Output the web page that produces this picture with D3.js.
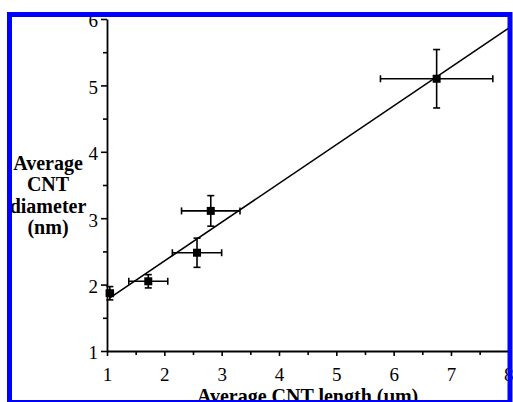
<!DOCTYPE html>
<html>
<head>
<meta charset="utf-8">
<script src="https://cdn.jsdelivr.net/npm/d3@7"></script>
<style>
  html, body { margin: 0; padding: 0; background: #fff; }
  svg { display: block; }
</style>
</head>
<body>
<svg id="chart" width="513" height="402"></svg>
<script>
// Average CNT length (µm) vs. average CNT diameter (nm)
const lengthMean = [1.05, 1.72, 2.57, 2.81, 6.75];
const lengthErr  = [0.06, 0.34, 0.43, 0.51, 0.98];
const diamMean   = [1.87, 2.05, 2.48, 3.11, 5.10];
const diamErr    = [0.10, 0.10, 0.22, 0.23, 0.44];

// Linear fit drawn through the points (end points)
const fitX = [1.05, 8];
const fitY = [1.80, 5.86];

const xTicks = [1, 2, 3, 4, 5, 6, 7, 8];
const yTicks = [1, 2, 3, 4, 5, 6];
const xMinor = [1.5, 2.5, 3.5, 4.5, 5.5, 6.5, 7.5];
const yMinor = [1.5, 2.5, 3.5, 4.5, 5.5];

const xTitle = "Average CNT length (\u00b5m)";
const yTitle = ["Average", "CNT", "diameter", "(nm)"];

const SERIF = "'Liberation Serif', 'Times New Roman', Times, serif";

const svg = d3.select("#chart");

const x = d3.scaleLinear().domain([1, 8]).range([107, 508.3]);
const y = d3.scaleLinear().domain([1, 6]).range([351, 19]);

const g = svg.append("g");

// Minor ticks
g.append("g")
  .attr("transform", `translate(0,${y(1)})`)
  .call(d3.axisBottom(x).tickValues(xMinor).tickSize(4).tickFormat(""))
  .call(a => a.select(".domain").remove())
  .selectAll("line").attr("stroke", "#000").attr("stroke-width", 1.6);
g.append("g")
  .attr("transform", `translate(${x(1)},0)`)
  .call(d3.axisLeft(y).tickValues(yMinor).tickSize(4).tickFormat(""))
  .call(a => a.select(".domain").remove())
  .selectAll("line").attr("stroke", "#000").attr("stroke-width", 1.6);

// Major axes
const xAxis = g.append("g")
  .attr("transform", `translate(0,${y(1)})`)
  .call(d3.axisBottom(x).tickValues(xTicks).tickSize(5).tickSizeOuter(0).tickPadding(12)
    .tickFormat(d3.format("d")));
xAxis.attr("font-family", null).attr("font-size", null);
xAxis.select(".domain").attr("stroke", "#000").attr("stroke-width", 1.8);
xAxis.selectAll(".tick line").attr("stroke", "#000").attr("stroke-width", 1.6);
xAxis.selectAll(".tick text")
  .style("font-family", SERIF)
  .style("font-size", "19px").attr("fill", "#000");

const yAxis = g.append("g")
  .attr("transform", `translate(${x(1)},0)`)
  .call(d3.axisLeft(y).tickValues(yTicks).tickSize(6).tickSizeOuter(0).tickPadding(3)
    .tickFormat(d3.format("d")));
yAxis.attr("font-family", null).attr("font-size", null);
yAxis.select(".domain").attr("stroke", "#000").attr("stroke-width", 1.8);
yAxis.selectAll(".tick line").attr("stroke", "#000").attr("stroke-width", 1.6);
yAxis.selectAll(".tick text")
  .style("font-family", SERIF)
  .style("font-size", "19px").attr("fill", "#000")
  .attr("dy", "0.42em");

// Fit line
g.append("line")
  .attr("x1", x(fitX[0])).attr("y1", y(fitY[0]))
  .attr("x2", x(fitX[1])).attr("y2", y(fitY[1]))
  .attr("stroke", "#000").attr("stroke-width", 1.6);

// Error bars and markers
const pts = lengthMean.map((v, i) => ({ lx: v, le: lengthErr[i], dy: diamMean[i], de: diamErr[i] }));
const cap = 3.5;
const eb = g.append("g").attr("stroke", "#000").attr("stroke-width", 1.6);
pts.forEach(p => {
  const cx = x(p.lx), cy = y(p.dy);
  const x0 = x(p.lx - p.le), x1 = x(p.lx + p.le);
  const y0 = y(p.dy - p.de), y1 = y(p.dy + p.de);
  eb.append("line").attr("x1", x0).attr("x2", x1).attr("y1", cy).attr("y2", cy);
  eb.append("line").attr("x1", x0).attr("x2", x0).attr("y1", cy - cap).attr("y2", cy + cap);
  eb.append("line").attr("x1", x1).attr("x2", x1).attr("y1", cy - cap).attr("y2", cy + cap);
  eb.append("line").attr("x1", cx).attr("x2", cx).attr("y1", y0).attr("y2", y1);
  eb.append("line").attr("x1", cx - cap).attr("x2", cx + cap).attr("y1", y0).attr("y2", y0);
  eb.append("line").attr("x1", cx - cap).attr("x2", cx + cap).attr("y1", y1).attr("y2", y1);
});
g.append("g").selectAll("rect").data(pts).join("rect")
  .attr("x", d => x(d.lx) - 4).attr("y", d => y(d.dy) - 4)
  .attr("width", 8).attr("height", 8).attr("fill", "#000");

// Axis titles
g.append("text")
  .attr("x", (x(1) + x(8)) / 2).attr("y", 403)
  .attr("text-anchor", "middle")
  .style("font-family", SERIF)
  .style("font-weight", "bold").style("font-size", "20px")
  .text(xTitle);

g.append("g").selectAll("text").data(yTitle).join("text")
  .attr("x", 48).attr("y", (d, i) => 170 + i * 21.3)
  .attr("text-anchor", "middle")
  .style("font-family", SERIF)
  .style("font-weight", "bold").style("font-size", "20px")
  .text(d => d);

// Blue frame
svg.append("rect")
  .attr("x", 9.5).attr("y", 14.5)
  .attr("width", 500.5).attr("height", 388)
  .attr("fill", "none").attr("stroke", "#0000ff").attr("stroke-width", 5);
</script>
</body>
</html>
